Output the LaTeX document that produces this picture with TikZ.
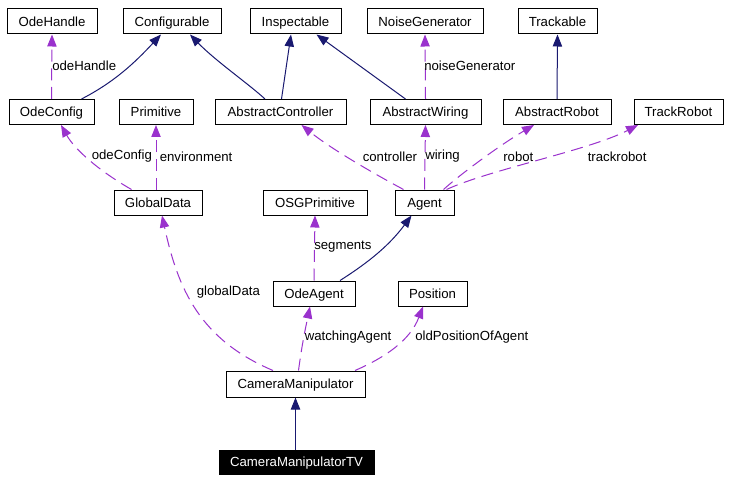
\documentclass[tikz,border=0pt]{standalone}
\usepackage{fontspec}
\setmainfont{Liberation Sans}
\usetikzlibrary{arrows.meta,calc}
\definecolor{inh}{HTML}{191970}
\definecolor{use}{HTML}{9A32CD}
\begin{document}
\begin{tikzpicture}[x=0.75pt,y=-0.75pt,
  every node/.style={font=\fontsize{9.9pt}{11pt}\selectfont},
  cls/.style={draw=black,line width=0.75pt,fill=white,minimum height={25*0.75pt},inner sep=0pt,text height=7.1pt,text depth=0pt,anchor=center},
  inhline/.style={draw=inh,line width=0.75pt,-{Triangle[length=9pt,width=7pt]}},
  useline/.style={draw=use,line width=0.75pt,dash pattern=on 9pt off 5pt,-{Triangle[length=9pt,width=7pt,fill=use]}},
  elabel/.style={anchor=west,inner sep=0pt,text=black}]
\useasboundingbox[fill=white] (0,0) rectangle (745,481);
% classes
\node[cls,minimum width={90*0.75pt}] (OdeHandle) at (52,21.5) {OdeHandle};
\node[cls,minimum width={98*0.75pt}] (Configurable) at (172,21.5) {Configurable};
\node[cls,minimum width={91*0.75pt}] (Inspectable) at (295.5,21.5) {Inspectable};
\node[cls,minimum width={116*0.75pt}] (NoiseGenerator) at (425,21.5) {NoiseGenerator};
\node[cls,minimum width={79*0.75pt}] (Trackable) at (557.5,21.5) {Trackable};
\node[cls,minimum width={85*0.75pt}] (OdeConfig) at (51.5,112) {OdeConfig};
\node[cls,minimum width={74*0.75pt}] (Primitive) at (156,112) {Primitive};
\node[cls,minimum width={131*0.75pt}] (AbstractController) at (280.5,112) {AbstractController};
\node[cls,minimum width={111*0.75pt}] (AbstractWiring) at (425.5,112) {AbstractWiring};
\node[cls,minimum width={108*0.75pt}] (AbstractRobot) at (557,112) {AbstractRobot};
\node[cls,minimum width={89*0.75pt}] (TrackRobot) at (678.5,112) {TrackRobot};
\node[cls,minimum width={88*0.75pt}] (GlobalData) at (158,202.5) {GlobalData};
\node[cls,minimum width={104*0.75pt}] (OSGPrimitive) at (315,202.5) {OSGPrimitive};
\node[cls,minimum width={59*0.75pt}] (Agent) at (424.5,202.5) {Agent};
\node[cls,minimum width={82*0.75pt}] (OdeAgent) at (314,293.5) {OdeAgent};
\node[cls,minimum width={69*0.75pt}] (Position) at (432.5,293.5) {Position};
\node[cls,minimum width={139*0.75pt},minimum height={26*0.75pt}] (CameraManipulator) at (295.5,384) {CameraManipulator};
\node[cls,fill=black,text=white,minimum width={155*0.75pt},minimum height={24*0.75pt}] (CameraManipulatorTV) at (296.5,462) {CameraManipulatorTV};
% inheritance
\draw[inhline] ($(OdeConfig.north)+(30,0)$) .. controls +(33,-17) and +(-26,28) .. ($(Configurable.south)+(-11,0)$);
\draw[inhline] ($(AbstractController.north)+(-15.5,0)$) .. controls +(-15,-14) and +(25,26) .. ($(Configurable.south)+(18,0)$);
\draw[inhline] ($(AbstractController.north)+(1,0)$) -- ($(Inspectable.south)+(-4.5,0)$);
\draw[inhline] ($(AbstractWiring.north)+(-20,0)$) -- ($(Inspectable.south)+(21,0)$);
\draw[inhline] (AbstractRobot.north) -- (Trackable.south);
\draw[inhline] ($(OdeAgent.north)+(26,0)$) .. controls +(30,-19) and +(-21.5,29) .. ($(Agent.south)+(-13,0)$);
\draw[inhline] (CameraManipulator.south |- CameraManipulatorTV.north) -- (CameraManipulator.south);
% usage
\draw[useline] (OdeConfig.north) -- (OdeHandle.south);
\draw[useline] (AbstractWiring.north) -- (NoiseGenerator.south);
\draw[useline] (Primitive.south |- GlobalData.north) -- (Primitive.south);
\draw[useline] ($(GlobalData.north)+(-26.5,0)$) .. controls +(-31.5,-18) and +(14,25) .. ($(OdeConfig.south)+(9.5,0)$);
\draw[useline] ($(Agent.north)+(-21,0)$) .. controls +(-33.5,-18) and +(28.5,23) .. ($(AbstractController.south)+(21,0)$);
\draw[useline] (Agent.north) -- (AbstractWiring.south);
\draw[useline] ($(Agent.north)+(19,0)$) .. controls +(16.5,-15) and +(-34,20) .. ($(AbstractRobot.south)+(-23,0)$);
\draw[useline] ($(Agent.north)+(22,0)$) .. controls +(43.5,-20) and +(-48,25) .. ($(TrackRobot.south)+(-40.5,0)$);
\draw[useline] (OdeAgent.north) -- (OSGPrimitive.south);
\draw[useline] ($(CameraManipulator.north)+(-22.5,0)$) .. controls +(-73,-31) and +(16,74) .. ($(GlobalData.south)+(4,0)$);
\draw[useline] ($(CameraManipulator.north)+(3,0)$) .. controls +(3.5,-26) and +(-5,24) .. ($(OdeAgent.south)+(-4,0)$);
\draw[useline] ($(CameraManipulator.north)+(59.5,0)$) .. controls +(30,-13) and +(-13,34) .. ($(Position.south)+(-9.5,0)$);
% labels
\node[elabel] (lOdeHandle) at (52,65.5) {odeHandle};
\node[elabel] (lNoise) at (424,65.5) {noiseGenerator};
\node[elabel] (lOdeConfig) at (91.5,156.5) {odeConfig};
\node[elabel] (lEnv) at (159.5,156.5) {environment};
\node[elabel] (lController) at (362.5,156.5) {controller};
\node[elabel] (lWiring) at (425,156.5) {wiring};
\node[elabel] (lRobot) at (503,156.5) {robot};
\node[elabel] (lTrack) at (587.5,156.5) {trackrobot};
\node[elabel] (lSegments) at (314,246.5) {segments};
\node[elabel] (lGlobal) at (196.5,292.5) {globalData};
\node[elabel] (lWatching) at (304.5,337.5) {watchingAgent};
\node[elabel] (lOldPos) at (415,337.5) {oldPositionOfAgent};
\end{tikzpicture}
\end{document}
